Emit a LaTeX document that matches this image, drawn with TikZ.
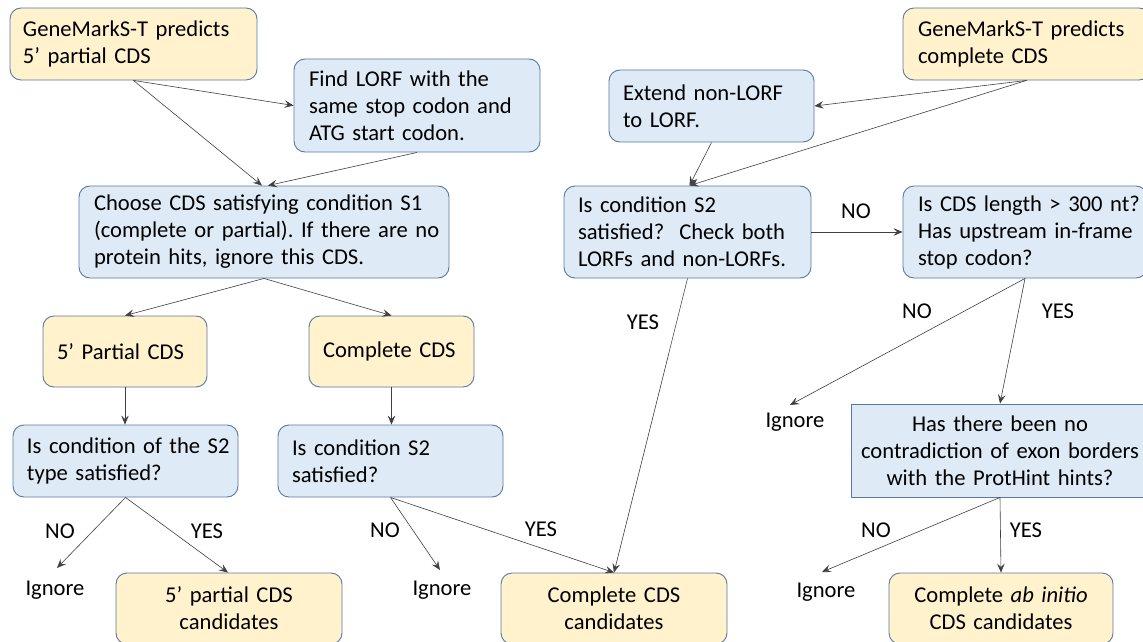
\documentclass[tikz,border=0pt]{standalone}
\usepackage{fontspec}
\setmainfont{Carlito}
\usetikzlibrary{arrows.meta}
\definecolor{bfill}{HTML}{DEEBF7}
\definecolor{yfill}{HTML}{FFF2CC}
\definecolor{bord}{HTML}{5A78A5}
\definecolor{arr}{HTML}{404040}
\newcommand{\Ln}[1]{\mbox{#1}}
\begin{document}
\frenchspacing
\begin{tikzpicture}[x=1pt,y=-1pt,
  every node/.style={font=\fontsize{22.6}{27}\selectfont},
  base/.style={draw=bord,line width=0.9pt,rounded corners=11pt,inner ysep=0pt,anchor=center},
  bluebox/.style={base,fill=bfill},
  yelbox/.style={base,fill=yfill},
  lbl/.style={inner sep=0pt,anchor=center},
  con/.style={draw=arr,line width=0.6pt,-{Stealth[length=9pt,width=7.5pt,inset=3.5pt]}}
]
\useasboundingbox (0,0) rectangle (1143,642);
\clip (0,0) rectangle (1143,642);
\fill[white] (0,0) rectangle (1143,642);

% left column
\node[yelbox,minimum width=247,minimum height=72,inner xsep=13,text width=221,align=left] (A) at (133.5,44) {\Ln{GeneMarkS-T predicts}\\\Ln{5’ partial CDS}};
\node[bluebox,minimum width=246,minimum height=93,inner xsep=15,text width=216,align=left] (B) at (417,105.5) {\Ln{Find LORF with the}\\\Ln{same stop codon and}\\\Ln{ATG start codon.}};
\node[bluebox,minimum width=370,minimum height=92,inner xsep=15,text width=340,align=left] (C) at (264,232) {\Ln{Choose CDS satisfying condition S1}\\\Ln{(complete or partial). If there are no}\\\Ln{protein hits, ignore this CDS.}};
\node[yelbox,minimum width=164,minimum height=71,inner xsep=14,text width=136,align=left] (D) at (125,351.5) {\Ln{5’ Partial CDS}};
\node[yelbox,minimum width=165,minimum height=71,inner xsep=14,text width=137,align=left] (E) at (391.5,351.5) {\Ln{Complete CDS}};
\node[bluebox,minimum width=225,minimum height=72,inner xsep=14,text width=197,align=left] (F) at (125.5,461) {\Ln{Is condition of the S2}\\\Ln{type satisfied?}};
\node[bluebox,minimum width=225,minimum height=72,inner xsep=14,text width=197,align=left] (G) at (390.5,461) {\Ln{Is condition S2}\\\Ln{satisfied?}};
\node[yelbox,minimum width=226,minimum height=71,text width=210,align=center] (H) at (229,608.5) {\Ln{5’ partial CDS}\\\Ln{candidates}};
\node[yelbox,minimum width=226,minimum height=71,text width=210,align=center] (I) at (614,608.5) {\Ln{Complete CDS}\\\Ln{candidates}};

% right column
\node[yelbox,minimum width=247,minimum height=72,inner xsep=15,text width=217,align=left] (J) at (1026.5,44) {\Ln{GeneMarkS-T predicts}\\\Ln{complete CDS}};
\node[bluebox,minimum width=205,minimum height=72,inner xsep=14,text width=177,align=left] (K) at (711.5,106) {\Ln{Extend non-LORF}\\\Ln{to LORF.}};
\node[bluebox,minimum width=247,minimum height=92,inner xsep=14,text width=219,align=left] (L) at (687.5,232) {\Ln{Is condition S2}\\\Ln{satisfied?\ \ Check both}\\\Ln{LORFs and non-LORFs.}};
\node[bluebox,minimum width=244,minimum height=92,inner xsep=15,text width=214,align=left] (M) at (1025,232) {\Ln{Is CDS length > 300 nt?}\\\Ln{Has upstream in-frame}\\\Ln{stop codon?}};
\node[bluebox,rounded corners=0pt,minimum width=296,minimum height=93,text width=290,align=center] (N) at (1000,450.5) {\Ln{Has there been no}\\\Ln{contradiction of exon borders}\\\Ln{with the ProtHint hints?}};
\node[yelbox,minimum width=224,minimum height=71,text width=210,align=center] (O) at (1001,608.5) {\Ln{Complete \textit{ab initio}}\\\Ln{CDS candidates}};

% ignore labels
\node[lbl] (ig1) at (55,590) {Ignore};
\node[lbl] (ig2) at (442,590) {Ignore};
\node[lbl] (ig3) at (795,422) {Ignore};
\node[lbl] (ig4) at (826,592) {Ignore};
\coordinate (ig1t) at (57,568);
\coordinate (ig2t) at (440,570);
\coordinate (ig3t) at (790,405);
\coordinate (ig4t) at (822,572);

% YES / NO labels
\node[lbl] (n1) at (856,211) {NO};
\node[lbl] (y1) at (643,322) {YES};
\node[lbl] (n2) at (917,311) {NO};
\node[lbl] (y2) at (1058,311) {YES};
\node[lbl] (n3) at (60,531) {NO};
\node[lbl] (y3) at (207,531) {YES};
\node[lbl] (n4) at (385,530) {NO};
\node[lbl] (y4) at (541,529) {YES};
\node[lbl] (n5) at (876,530) {NO};
\node[lbl] (y5) at (1026,530) {YES};

% connectors
\draw[con] (A.south) -- ([xshift=-2]C.north);
\draw[con] (A.south) -- (B.west);
\draw[con] (B.south) -- ([xshift=4]C.north);
\draw[con] (J.south) -- (K.east);
\draw[con] (J.south) -- ([xshift=2]L.north);
\draw[con] (K.south) -- ([xshift=2]L.north);
\draw[con] (L.east) -- (M.west);
\draw[con] (L.south) -- (I.north);
\draw[con] (M.south) -- (ig3t);
\draw[con] (M.south) -- (N.north);
\draw[con] (N.south) -- (ig4t);
\draw[con] (N.south) -- (O.north);
\draw[con] (C.south) -- (D.north);
\draw[con] (C.south) -- (E.north);
\draw[con] (D.south) -- (D.south |- F.north);
\draw[con] (E.south) -- (E.south |- G.north);
\draw[con] (F.south) -- (ig1t);
\draw[con] (F.south) -- ([xshift=-1]H.north);
\draw[con] (G.south) -- (ig2t);
\draw[con] (G.south) -- (I.north);
\end{tikzpicture}
\end{document}
